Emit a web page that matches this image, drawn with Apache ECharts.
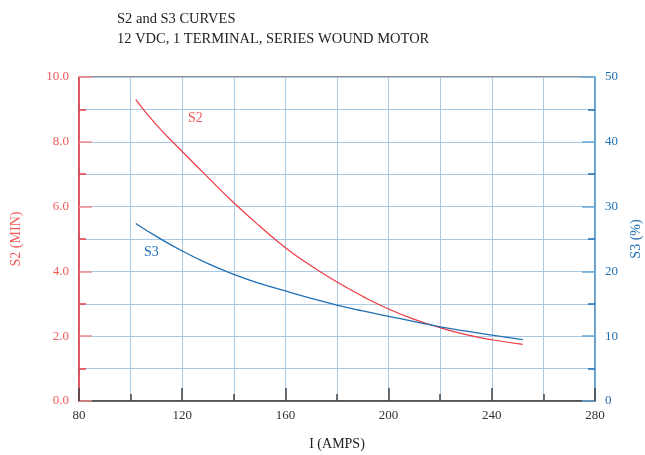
<!DOCTYPE html>
<html>
<head>
<meta charset="utf-8">
<script src="https://cdn.jsdelivr.net/npm/echarts@6/dist/echarts.min.js"></script>
<style>html,body{margin:0;padding:0;background:#fff}#c{width:645px;height:455px}</style>
</head>
<body>
<div id="c"></div>
<script>
var currentAmps = [102, 110, 120, 130, 140, 150, 160, 170, 180, 190, 200, 210, 220, 230, 240, 252];
var s2Min = [9.30, 8.52, 7.70, 6.90, 6.12, 5.40, 4.73, 4.17, 3.67, 3.23, 2.84, 2.52, 2.26, 2.05, 1.89, 1.75];
var s3Pct = [27.4, 25.4, 23.15, 21.2, 19.55, 18.15, 16.98, 15.85, 14.8, 13.9, 13.07, 12.25, 11.45, 10.78, 10.16, 9.47];
var titleLines = ['S2 and S3 CURVES', '12 VDC, 1 TERMINAL, SERIES WOUND MOTOR'];

var RED = '#ee3b43', RED_L = '#f25a5a', BLUE = '#1f6fb4', BLUE_L = '#5aa2d8', GRIDC = '#a9c8e6';
var FONT = 'Liberation Serif';

function pairs(xs, ys) { return xs.map(function (x, i) { return [x, ys[i]]; }); }

var chart = echarts.init(document.getElementById('c'));
chart.setOption({
  animation: false,
  backgroundColor: '#fff',
  title: {
    text: titleLines.join('\n'),
    left: 112, top: 4,
    textStyle: { fontFamily: FONT, fontSize: 14.5, fontWeight: 'normal', color: '#222', lineHeight: 20 }
  },
  grid: { left: 79, right: 50, top: 77, bottom: 54, show: true, borderColor: '#222', borderWidth: 1,
          containLabel: false, outerBoundsMode: 'none' },
  xAxis: {
    type: 'value', min: 80, max: 280, interval: 40,
    name: 'I (AMPS)', nameLocation: 'middle', nameGap: 36,
    nameTextStyle: { fontFamily: FONT, fontSize: 14, color: '#222' },
    axisLine: { show: true, lineStyle: { color: '#444', width: 1.5 } },
    axisTick: { show: true, inside: true, length: 13, lineStyle: { color: '#444', width: 1.5 } },
    minorTick: { show: true, splitNumber: 2, length: 7, lineStyle: { color: '#444', width: 1.5 } },
    axisLabel: { fontFamily: FONT, fontSize: 13, color: '#333', margin: 8 },
    splitLine: { show: true, lineStyle: { color: GRIDC, width: 1 } },
    minorSplitLine: { show: true, lineStyle: { color: GRIDC, width: 1 } }
  },
  yAxis: [{
    type: 'value', min: 0, max: 10, interval: 2,
    name: 'S2 (MIN)', nameLocation: 'middle', nameGap: 56, nameRotate: 90,
    nameTextStyle: { fontFamily: FONT, fontSize: 14, color: RED_L },
    axisLine: { show: true, lineStyle: { color: RED, width: 1.5 } },
    axisTick: { show: true, inside: true, length: 13, lineStyle: { color: '#f38a8a', width: 1.5 } },
    minorTick: { show: true, splitNumber: 2, length: 7, lineStyle: { color: RED, width: 1.5 } },
    axisLabel: { fontFamily: FONT, fontSize: 13, color: RED_L, margin: 10, formatter: function (v) { return v.toFixed(1); } },
    splitLine: { show: true, lineStyle: { color: GRIDC, width: 1 } },
    minorSplitLine: { show: true, lineStyle: { color: GRIDC, width: 1 } }
  }, {
    type: 'value', min: 0, max: 50, interval: 10, position: 'right',
    name: 'S3 (%)', nameLocation: 'middle', nameGap: 34, nameRotate: 90,
    nameTextStyle: { fontFamily: FONT, fontSize: 14, color: BLUE },
    axisLine: { show: true, lineStyle: { color: BLUE_L, width: 1.5 } },
    axisTick: { show: true, inside: true, length: 13, lineStyle: { color: '#6aaada', width: 1.5 } },
    minorTick: { show: true, splitNumber: 2, length: 7, lineStyle: { color: BLUE, width: 1.5 } },
    axisLabel: { fontFamily: FONT, fontSize: 13, color: BLUE, margin: 10 },
    splitLine: { show: false },
    minorSplitLine: { show: false }
  }],
  series: [{
    name: 'S2', type: 'line', yAxisIndex: 0, smooth: true, showSymbol: false,
    data: pairs(currentAmps, s2Min),
    lineStyle: { color: RED, width: 1.2 }, z: 3
  }, {
    name: 'S3', type: 'line', yAxisIndex: 1, smooth: true, showSymbol: false,
    data: pairs(currentAmps, s3Pct),
    lineStyle: { color: BLUE, width: 1.3 }, z: 3
  }],
  graphic: [
    { type: 'text', left: 188, top: 111, style: { text: 'S2', fill: RED_L, font: '14px "Liberation Serif"' } },
    { type: 'text', left: 144, top: 245, style: { text: 'S3', fill: BLUE, font: '14px "Liberation Serif"' } }
  ]
});
</script>
</body>
</html>
